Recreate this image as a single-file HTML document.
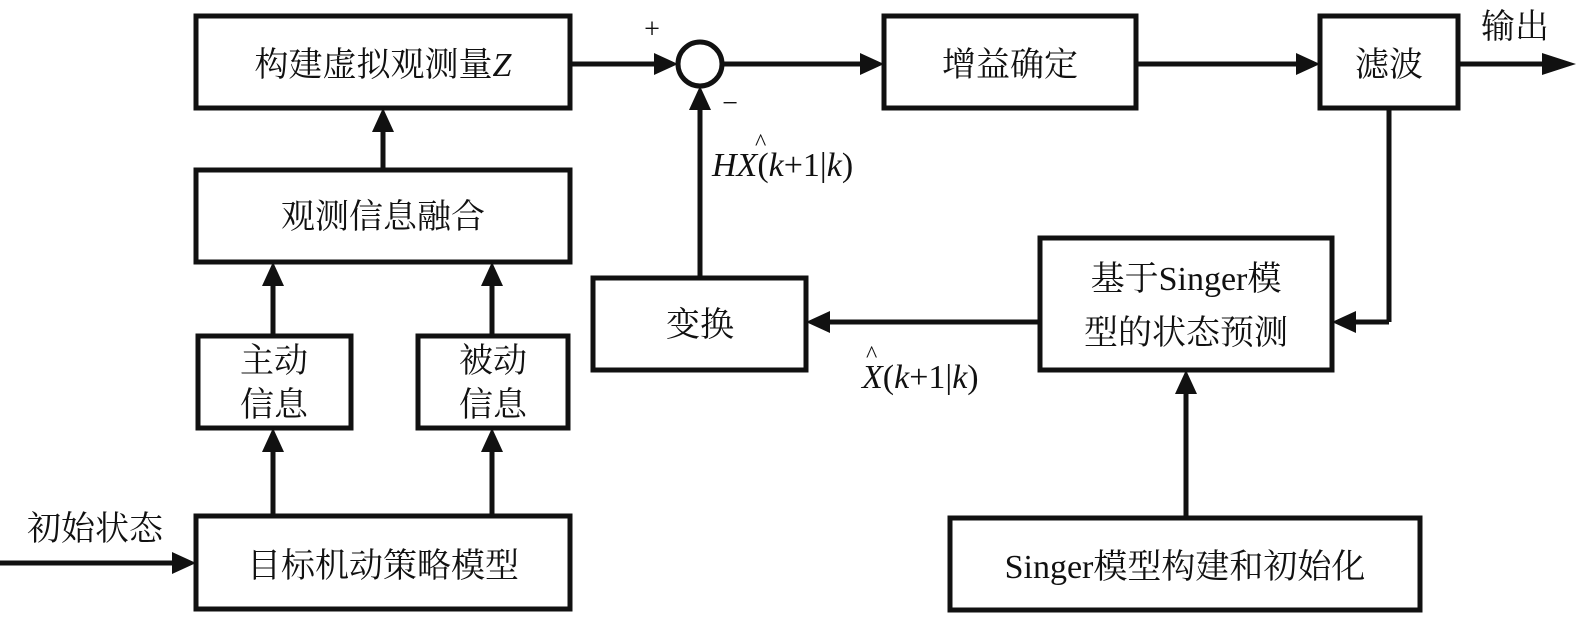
<!DOCTYPE html>
<html><head><meta charset="utf-8"><style>
html,body{margin:0;padding:0;background:#fff;}
svg{display:block}
text{font-family:"Liberation Serif","Noto Serif CJK SC","Noto Sans CJK SC",serif;fill:#111;}
</style></head><body>
<svg width="1576" height="621" viewBox="0 0 1576 621" xmlns="http://www.w3.org/2000/svg">
<defs>
<marker id="a" markerWidth="10" markerHeight="10" refX="9" refY="5" orient="auto" markerUnits="userSpaceOnUse" viewBox="0 0 10 10">
</marker>
</defs>
<g fill="none" stroke="#111" stroke-width="5">
<rect x="196" y="16" width="374" height="92"/>
<rect x="196" y="170" width="374" height="92"/>
<rect x="198" y="336" width="153" height="92"/>
<rect x="418" y="336" width="150" height="92"/>
<rect x="196" y="516" width="374" height="93"/>
<circle cx="700" cy="64" r="22"/>
<rect x="884" y="16" width="252" height="92"/>
<rect x="1320" y="16" width="138" height="92"/>
<rect x="1040" y="238" width="292" height="132"/>
<rect x="593" y="278" width="213" height="92"/>
<rect x="950" y="518" width="470" height="92"/>
<!-- lines -->
<line x1="570" y1="64" x2="660" y2="64"/>
<line x1="722" y1="64" x2="862" y2="64"/>
<line x1="1136" y1="64" x2="1300" y2="64"/>
<line x1="1458" y1="64" x2="1545" y2="64"/>
<line x1="1389" y1="108" x2="1389" y2="322"/>
<line x1="1389" y1="322" x2="1355" y2="322"/>
<line x1="1040" y1="322" x2="826" y2="322"/>
<line x1="700" y1="278" x2="700" y2="106"/>
<line x1="1186" y1="518" x2="1186" y2="392"/>
<line x1="383" y1="170" x2="383" y2="130"/>
<line x1="273" y1="336" x2="273" y2="284"/>
<line x1="492" y1="336" x2="492" y2="284"/>
<line x1="273" y1="516" x2="273" y2="450"/>
<line x1="492" y1="516" x2="492" y2="450"/>
<line x1="0" y1="563" x2="176" y2="563"/>
</g>
<g fill="#111">
<polygon points="678,64 654,53 654,75"/>
<polygon points="884,64 860,53 860,75"/>
<polygon points="1320,64 1296,53 1296,75"/>
<polygon points="1576,64 1542,53 1542,75"/>
<polygon points="1332,322 1356,311 1356,333"/>
<polygon points="806,322 830,311 830,333"/>
<polygon points="700,86 689,110 711,110"/>
<polygon points="1186,370 1175,394 1197,394"/>
<polygon points="383,108 372,132 394,132"/>
<polygon points="273,262 262,286 284,286"/>
<polygon points="492,262 481,286 503,286"/>
<polygon points="273,428 262,452 284,452"/>
<polygon points="492,428 481,452 503,452"/>
<polygon points="196,563 172,552 172,574"/>
</g>
<g font-size="34">
<text x="383" y="76" text-anchor="middle">构建虚拟观测量<tspan font-style="italic">Z</tspan></text>
<text x="383" y="228" text-anchor="middle">观测信息融合</text>
<text x="274" y="372" text-anchor="middle">主动</text>
<text x="274" y="416" text-anchor="middle">信息</text>
<text x="493" y="372" text-anchor="middle">被动</text>
<text x="493" y="416" text-anchor="middle">信息</text>
<text x="383" y="577" text-anchor="middle">目标机动策略模型</text>
<text x="95" y="540" text-anchor="middle">初始状态</text>
<text x="1010" y="76" text-anchor="middle">增益确定</text>
<text x="1389" y="76" text-anchor="middle">滤波</text>
<text x="1515" y="38" text-anchor="middle">输出</text>
<text x="1186" y="290" text-anchor="middle">基于Singer模</text>
<text x="1186" y="344" text-anchor="middle">型的状态预测</text>
<text x="700" y="336" text-anchor="middle">变换</text>
<text x="1185" y="578" text-anchor="middle">Singer模型构建和初始化</text>
<text x="652" y="38" text-anchor="middle" font-size="28">+</text>
<text x="730" y="112" text-anchor="middle" font-size="28">−</text>
<text x="712" y="176" font-style="italic">HX<tspan font-style="normal">(</tspan>k<tspan font-style="normal">+1|</tspan>k<tspan font-style="normal">)</tspan></text>
<text x="755" y="150" font-size="24">^</text>
<text x="862" y="388" font-style="italic">X<tspan font-style="normal">(</tspan>k<tspan font-style="normal">+1|</tspan>k<tspan font-style="normal">)</tspan></text>
<text x="866" y="362" font-size="24">^</text>
</g>
</svg>
</body></html>
